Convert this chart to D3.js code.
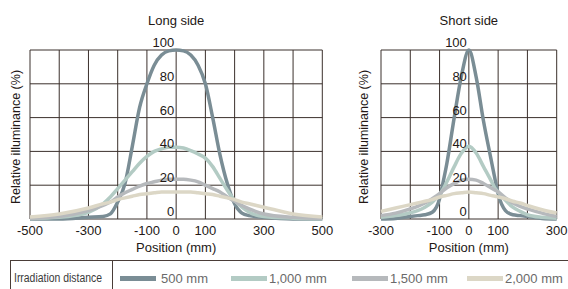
<!DOCTYPE html>
<html>
<head>
<meta charset="utf-8">
<script src="https://cdn.jsdelivr.net/npm/d3@7"></script>
<style>
  body { margin: 0; background: #fff; }
  svg { display: block; font-family: "Liberation Sans", Arial, sans-serif; }
</style>
</head>
<body>
<svg id="chart" width="568" height="289"></svg>
<script>
// data
const seriesNames = ["500 mm", "1,000 mm", "1,500 mm", "2,000 mm"];
const seriesColors = ["#7a8d95", "#b3cbc4", "#b6b9bc", "#dcd7c6"];

const longPos = [-500, -400, -300, -250, -225, -200, -175, -150, -125, -100, -75, -50, -25, 0, 25, 50, 75, 100, 125, 150, 175, 200, 225, 250, 300, 400, 500];
const long500 = [0, 0, 1, 1.5, 3, 10, 21, 43, 66, 80, 91, 97, 99.5, 100, 99.5, 97, 91, 80, 60, 38, 21, 9, 3.5, 2, 1, 0, 0];
const long1000 = [0.3, 1, 4, 9, 13, 18, 23, 28, 33, 37, 40, 41.5, 42.5, 42.5, 42, 40.5, 38.5, 36, 31, 24, 17, 11, 7, 4, 1.5, 0.5, 0.2];
const long1500 = [0.5, 1.5, 5, 8, 10, 13, 15.5, 17.5, 19.5, 21, 22, 23, 23.5, 23.5, 23.5, 23, 22, 20, 18, 16, 13, 10.5, 8, 6, 3, 1, 0.3];
const long2000 = [1.2, 3, 6.5, 9, 10, 11.5, 12.5, 13.5, 14.5, 15, 15.5, 16, 16, 16, 16, 16, 15.5, 15, 14.5, 13.5, 12.5, 11.5, 10, 9, 7, 3, 1.2];

const shortPos = [-300, -250, -200, -175, -150, -125, -100, -90, -75, -50, -25, 0, 25, 50, 75, 90, 100, 125, 150, 175, 200, 250, 300];
const short500 = [0, 0.3, 1.5, 2, 2.5, 4, 12, 20, 33, 60, 85, 100, 84, 58, 36, 23, 15, 5, 2.5, 2, 1.5, 0.3, 0];
const short1000 = [1, 2, 3.7, 5, 7, 10, 14.5, 17, 22, 31, 39, 43, 39, 31, 23, 18, 16, 11, 7, 4.5, 2.5, 1, 0.5];
const short1500 = [2, 3.5, 6, 7.5, 9.5, 12, 15, 16.5, 18.5, 21, 23, 23.5, 23, 21, 18.5, 17, 16, 12.5, 9.5, 7.5, 6, 3.5, 1.5];
const short2000 = [4.5, 6.5, 8.5, 9.5, 10.5, 11.5, 13, 13.5, 14, 15, 15.5, 16, 15.5, 15, 14, 13.5, 13, 12, 10.5, 9.5, 8, 5.5, 3.5];

const longTicks = [-500, -300, -100, 0, 100, 300, 500];
const shortTicks = [-300, -100, 0, 100, 300];
const yTicks = [0, 20, 40, 60, 80, 100];

const gridColor = "#3b302c";
const svg = d3.select("#chart");

function drawPanel(opt) {
    const x = d3.scaleLinear().domain(opt.domain).range([opt.left, opt.right]);
    const y = d3.scaleLinear().domain([0, 100]).range([219, 50]);
    const g = svg.append("g");

    // grid
    const vLines = d3.range(opt.domain[0], opt.domain[1] + 1, 100);
    g.selectAll(".v").data(vLines).join("line")
        .attr("x1", d => x(d)).attr("x2", d => x(d))
        .attr("y1", y(0)).attr("y2", y(100))
        .attr("stroke", gridColor).attr("stroke-width", 1);
    g.selectAll(".h").data(yTicks).join("line")
        .attr("x1", x(opt.domain[0])).attr("x2", x(opt.domain[1]))
        .attr("y1", d => y(d)).attr("y2", d => y(d))
        .attr("stroke", gridColor).attr("stroke-width", 1);

    // curves
    const line = d3.line()
        .x(d => x(d[0]))
        .y(d => y(d[1]))
        .curve(d3.curveMonotoneX);
    opt.series.forEach((vals, i) => {
        g.append("path")
            .datum(opt.pos.map((p, j) => [p, vals[j]]))
            .attr("d", line)
            .attr("fill", "none")
            .attr("stroke", seriesColors[i])
            .attr("stroke-width", 3.5);
    });

    // y tick labels next to the zero line
    g.selectAll(".yt").data(yTicks).join("text")
        .attr("x", x(0) - 2)
        .attr("y", d => y(d) - 3)
        .attr("text-anchor", "end")
        .attr("font-size", 13)
        .attr("fill", "#231815")
        .text(d => d);

    // x tick labels
    g.selectAll(".xt").data(opt.ticks).join("text")
        .attr("x", d => x(d))
        .attr("y", 235)
        .attr("text-anchor", "middle")
        .attr("font-size", 13)
        .attr("fill", "#231815")
        .text(d => d);

    g.append("text")
        .attr("x", x(0)).attr("y", 252)
        .attr("text-anchor", "middle")
        .attr("font-size", 13)
        .attr("fill", "#231815")
        .text("Position (mm)");

    g.append("text")
        .attr("x", x(0)).attr("y", 25)
        .attr("text-anchor", "middle")
        .attr("font-size", 13)
        .attr("fill", "#231815")
        .text(opt.title);

    g.append("text")
        .attr("transform", `translate(${opt.labelX}, 137) rotate(-90)`)
        .attr("text-anchor", "middle")
        .attr("font-size", 12.5)
        .attr("fill", "#231815")
        .text("Relative illuminance (%)");
}

drawPanel({
    title: "Long side", domain: [-500, 500], left: 30, right: 322.3,
    pos: longPos, series: [long500, long1000, long1500, long2000],
    ticks: longTicks, labelX: 20
});
drawPanel({
    title: "Short side", domain: [-300, 300], left: 381, right: 556.7,
    pos: shortPos, series: [short500, short1000, short1500, short2000],
    ticks: shortTicks, labelX: 368
});

// legend
const legend = svg.append("g");
legend.append("line")
    .attr("x1", 10).attr("x2", 568).attr("y1", 260.5).attr("y2", 260.5)
    .attr("stroke", "#4a3d38").attr("stroke-width", 1);
legend.append("line")
    .attr("x1", 10.5).attr("x2", 10.5).attr("y1", 260).attr("y2", 289)
    .attr("stroke", "#4a3d38").attr("stroke-width", 1);
legend.append("line")
    .attr("x1", 112.5).attr("x2", 112.5).attr("y1", 260).attr("y2", 289)
    .attr("stroke", "#4a3d38").attr("stroke-width", 1);
legend.append("text")
    .attr("x", 14).attr("y", 282)
    .attr("font-size", 12)
    .attr("textLength", 88)
    .attr("lengthAdjust", "spacingAndGlyphs")
    .attr("fill", "#3a3a3a")
    .text("Irradiation distance");

const legX = [120, 231, 352, 467];
const items = legend.selectAll(".item").data(seriesNames).join("g")
    .attr("transform", (d, i) => `translate(${legX[i]}, 0)`);
items.append("rect")
    .attr("x", 0).attr("y", 276).attr("width", 36).attr("height", 5)
    .attr("fill", (d, i) => seriesColors[i]);
items.append("text")
    .attr("x", (d, i) => i === 0 ? 41 : 38).attr("y", 283)
    .attr("font-size", 13)
    .attr("fill", "#6a6a6a")
    .text(d => d);
</script>
</body>
</html>
